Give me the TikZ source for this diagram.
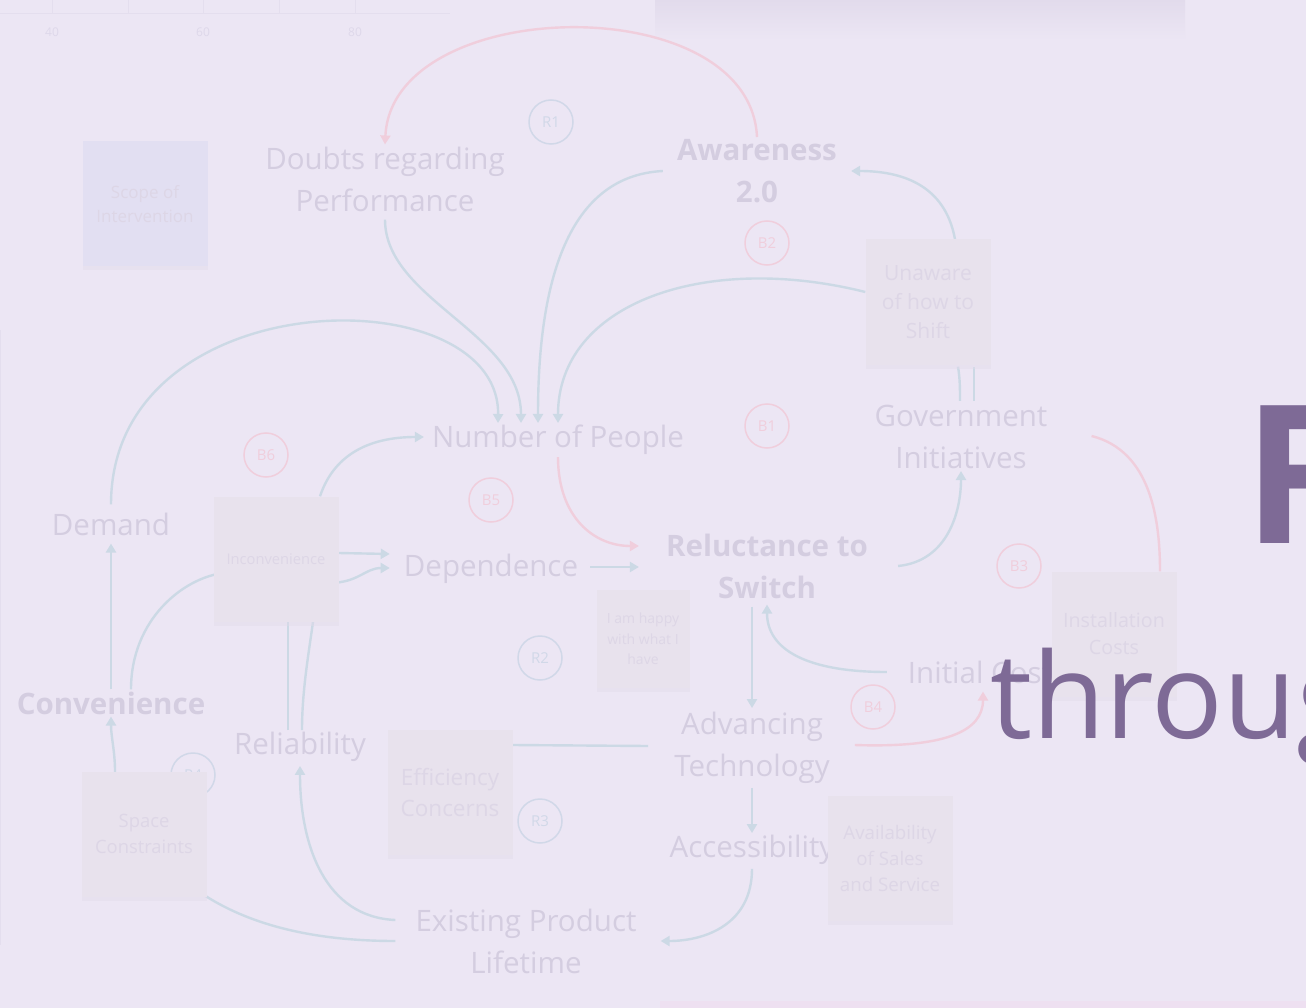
\documentclass[tikz,border=0pt]{standalone}
\usepackage{fontspec}
\setmainfont{Open Sans}
\usepackage{xcolor}
\usetikzlibrary{arrows.meta,calc,shadows,positioning}

\definecolor{bgc}{RGB}{236,230,244}
\definecolor{varc}{RGB}{212,205,224}
\definecolor{tealc}{RGB}{204,217,229}
\definecolor{pinkc}{RGB}{240,206,220}
\definecolor{notec}{RGB}{232,226,237}
\definecolor{notesh}{RGB}{226,219,235}
\definecolor{notetxt}{RGB}{221,214,230}
\definecolor{scopec}{RGB}{226,223,242}
\definecolor{bluec}{RGB}{209,216,232}
\definecolor{rulec}{RGB}{228,222,238}
\definecolor{axisc}{RGB}{222,216,234}
\definecolor{topsh}{RGB}{226,219,236}
\definecolor{botc}{RGB}{238,224,241}
\definecolor{titlec}{RGB}{126,106,150}

\pgfdeclarelayer{bg}
\pgfdeclarelayer{links}
\pgfdeclarelayer{front}
\pgfsetlayers{bg,links,main,front}

\tikzset{
  var/.style={text=varc, align=center, inner sep=2pt, font=\fontsize{29.5}{42}\selectfont},
  varb/.style={var, font=\fontsize{29.5}{42}\selectfont\bfseries},
  note/.style={fill=notec, text=notetxt, align=center, inner sep=2pt,
    minimum width=125pt, minimum height=125pt,
    drop shadow={shadow xshift=0pt, shadow yshift=-4pt, fill=notesh, opacity=.45}},
  loopr/.style={circle, draw=bluec, text=bluec, line width=1.5pt, minimum size=44pt,
    inner sep=0pt, font=\fontsize{15}{15}\selectfont},
  loopb/.style={loopr, draw=pinkc, text=pinkc},
  tline/.style={draw=tealc, line width=2.4pt},
  tlink/.style={tline, -{Triangle[width=10pt,length=9pt]}},
  pline/.style={tline, draw=pinkc},
  plink/.style={tlink, draw=pinkc},
  axis/.style={text=axisc, font=\fontsize{12}{12}\selectfont, inner sep=1pt},
  title/.style={text=titlec, inner sep=0pt}
}

\begin{document}
\begin{tikzpicture}[x=1pt,y=-1pt]
\useasboundingbox (0,0) rectangle (1306,1008);
\begin{pgfonlayer}{bg}
  \fill[bgc] (0,0) rectangle (1306,1008);
  \shade[top color=topsh, bottom color=bgc] (655,0) rectangle (1185,40);
  \draw[rulec, line width=.6pt] (0,13) -- (450,13);
  \foreach \x in {52,128,203,279,355}
    \draw[rulec, line width=.6pt] (\x,0) -- (\x,13);
  \fill[botc] (660,1001) rectangle (1306,1008);
  \draw[rulec, line width=1pt] (0.5,330) -- (0.5,945);
\end{pgfonlayer}

% ruler
\node[axis] (ax40) at (52,32) {40};
\node[axis] (ax60) at (203,32) {60};
\node[axis] (ax80) at (355,32) {80};

% variables
\node[var] (doubts) at (385,179) {Doubts regarding\\Performance};
\node[varb] (aware) at (757,171) {Awareness\\2.0};
\node[var] (nop) at (558,440) {Number of People};
\node[var] (gov) at (961,437) {Government\\Initiatives};
\node[var] (demand) at (111,524) {Demand};
\node[var] (dep) at (491,569) {Dependence};
\node[varb] (relsw) at (767,566) {Reluctance to\\Switch};
\node[var] (initc) at (980,672) {Initial Cost};
\node[varb] (conv) at (111,703) {Convenience};
\node[var] (rel) at (300,747) {Reliability};
\node[var] (adv) at (752,748) {Advancing\\Technology};
\node[var] (acc) at (752,850) {Accessibility};
\node[var] (epl) at (526,941) {Existing Product\\Lifetime};

% loops
\node[loopr] (r1) at (551,122) {R1};
\node[loopb] (b2) at (767,243) {B2};
\node[loopb] (b1) at (767,426) {B1};
\node[loopb] (b6) at (266,455) {B6};
\node[loopb] (b5) at (491,500) {B5};
\node[loopr] (r2) at (540,658) {R2};
\node[loopb] (b3) at (1019,566) {B3};
\node[loopb] (b4) at (873,707) {B4};
\node[loopr] (r3) at (540,821) {R3};
\node[loopr] (r4) at (193,775) {R4};

% sticky notes
\node[note, fill=scopec, font=\fontsize{17}{24}\selectfont] (scope) at (145,204) {Scope of\\Intervention};
\node[note, font=\fontsize{21}{29}\selectfont] (unaware) at (928,302) {Unaware\\of how to\\Shift};
\node[note, font=\fontsize{14.7}{20}\selectfont] (incon) at (276,559) {Inconvenience};
\node[note, minimum width=93pt, minimum height=98pt, font=\fontsize{14}{20.5}\selectfont] (happy) at (643,639) {I am happy\\with what I\\have};
\node[note, font=\fontsize{19.7}{27}\selectfont] (inst) at (1114,634) {Installation\\Costs};
\node[note, font=\fontsize{18.4}{26}\selectfont] (space) at (144,834) {Space\\Constraints};
\node[note, font=\fontsize{22.5}{31}\selectfont] (eff) at (450,792) {Efficiency\\Concerns};
\node[note, font=\fontsize{18.7}{26}\selectfont] (avail) at (890,858) {Availability\\of Sales\\and Service};

\begin{pgfonlayer}{links}
  \draw[plink] (aware.north) .. controls +(-7,-150) and +(7,-150) .. (doubts.north);
  \draw[tlink] ($(doubts.south)+(0,6)$) .. controls +(0,80) and +(0,-90) .. ($(nop.north)+(-37,0)$);
  \draw[tlink] ($(demand.north)+(0,-6)$) .. controls +(0,-225) and +(2,-148) .. ($(nop.north)+(-60,0)$);
  \draw[tlink] ($(aware.west)+(-12,0)$) .. controls +(-100,5) and +(0,-130) .. ($(nop.north)+(-20,0)$);
  \draw[tlink] ($(unaware.west)+(0,-10)$) .. controls +(-160,-40) and +(0,-120) .. (nop.north);
  \draw[tlink] ($(unaware.north)+(27,0)$) .. controls +(-10,-55) and +(50,0) .. ($(aware.east)+(12,0)$);
  \draw[tline] ($(gov.north)+(-1,-2)$) .. controls +(0,-12) and +(2,12) .. ($(unaware.south)+(30,2)$);
  \draw[tline] ($(gov.north)+(13,-2)$) -- ($(unaware.south)+(46,2)$);
  \draw[tlink] ($(incon.north)+(44,0)$) .. controls +(15,-45) and +(-50,0) .. ($(nop.west)+(-6,-3)$);
  \draw[tlink] ($(incon.east)+(0,-6)$) -- ($(dep.west)+(-12,-15)$);
  \draw[tlink] ($(conv.north)+(20,0)$) .. controls +(0,-70) and +(-40,5) .. ($(incon.west)+(10,14)$)
    -- ($(incon.east)+(-10,24)$) .. controls +(30,0) and +(-25,0) .. ($(dep.west)+(-12,-1)$);
  \draw[tlink] (conv.north) -- ($(demand.south)+(0,6)$);
  \draw[tline] ($(rel.north)+(-12,0)$) -- ($(incon.south)+(12,0)$);
  \draw[tline] ($(rel.north)+(2,0)$) .. controls +(0,-40) and +(-4,30) .. ($(incon.south)+(37,0)$);
  \draw[tlink] ($(epl.west)+(-18,-21)$) .. controls +(-70,-3) and +(0,80) .. ($(rel.south)+(0,2)$);
  \draw[tlink] ($(epl.west)+(-18,0)$) .. controls +(-90,0) and +(40,25) .. (space.south east)
    .. controls +(-60,-40) and +(0,60) .. ($(space.north)+(-29,0)$)
    .. controls +(0,-20) and +(0,20) .. (conv.south);
  \draw[tline] ($(adv.west)+(-24,-2)$) -- ($(eff.east)+(0,-47)$);
  \draw[plink] (nop.south) .. controls +(0,60) and +(-45,0) .. ($(relsw.west)+(-25,-20)$);
  \draw[tlink] ($(dep.east)+(10,-2)$) -- ($(relsw.west)+(-25,1)$);
  \draw[tlink] ($(relsw.east)+(28,0)$) .. controls +(50,-5) and +(0,40) .. (gov.south);
  \draw[pline] ($(gov.east)+(42,-1)$) .. controls +(60,15) and +(0,-50) .. ($(inst.north)+(46,0)$);
  \draw[tlink] ($(relsw.south)+(-15,6)$) -- ($(adv.north)+(0,-2)$);
  \draw[tlink] ($(initc.west)+(-19,0)$) .. controls +(-80,0) and +(0,45) .. ($(relsw.south)+(0,4)$);
  \draw[plink] ($(adv.east)+(23,-3)$) .. controls +(90,3) and +(0,40) .. ($(initc.south)+(3,6)$);
  \draw[tlink] ($(adv.south)+(0,2)$) -- (acc.north);
  \draw[tlink] ($(acc.south)+(0,2)$) .. controls +(0,55) and +(45,0) .. ($(epl.east)+(22,0)$);
\end{pgfonlayer}

\begin{pgfonlayer}{front}
  \node[title, anchor=base west, font=\fontsize{119}{119}\selectfont] (sub) at (990,738) {through};
  \node[title, anchor=base west, font=\fontsize{193}{193}\selectfont\bfseries] (head) at (1243,543) {F};
\end{pgfonlayer}
\end{tikzpicture}
\end{document}
